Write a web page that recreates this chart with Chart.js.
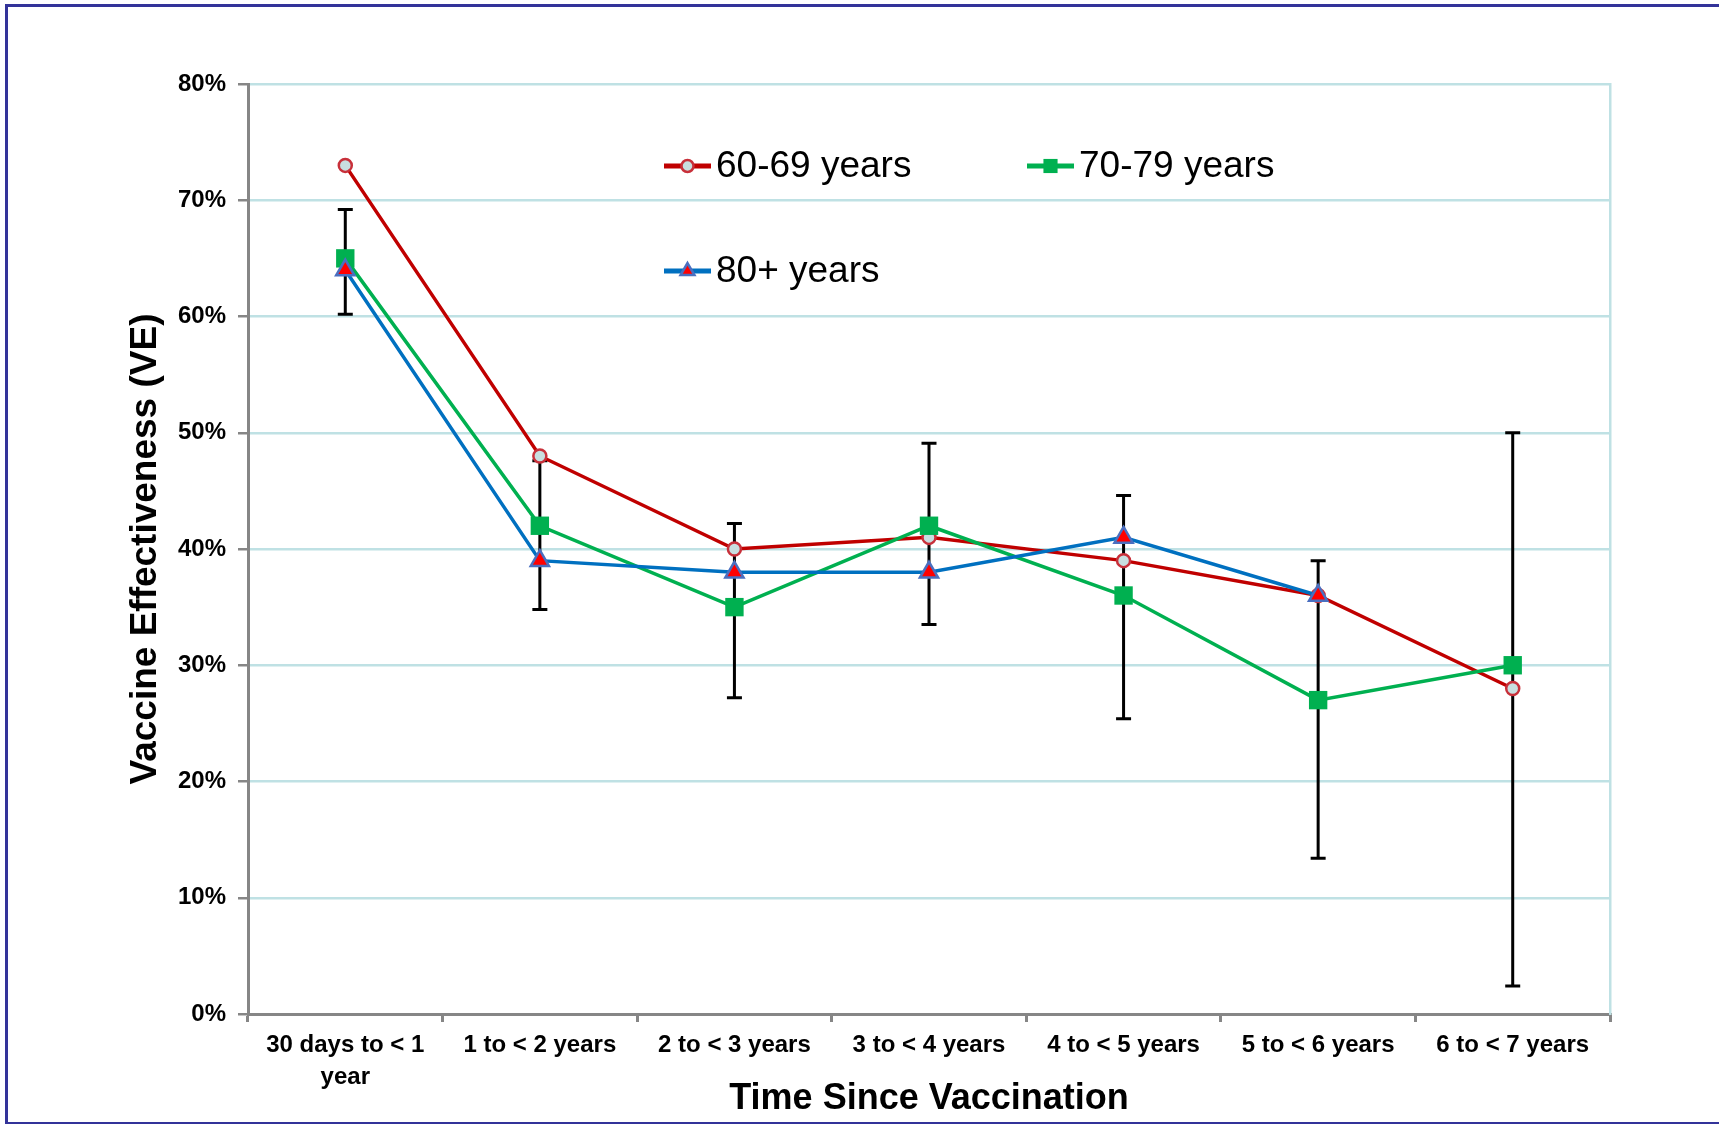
<!DOCTYPE html>
<html>
<head>
<meta charset="utf-8">
<title>Vaccine Effectiveness by Time Since Vaccination</title>
<script src="https://cdn.jsdelivr.net/npm/chart.js@4.4.1/dist/chart.umd.min.js"></script>
<style>
  html, body { margin: 0; padding: 0; background: #fff; overflow: hidden; }
  #wrap { position: relative; width: 1719px; height: 1124px; }
  #frame {
    position: absolute; left: 5px; top: 4px; width: 1800px; height: 1120px;
    box-sizing: border-box; pointer-events: none;
    border-left: 3px solid #333399; border-top: 3px solid #333399; border-bottom: 2px solid #333399;
  }
</style>
</head>
<body>
<div id="wrap">
  <canvas id="myChart"></canvas>
  <div id="frame"></div>
</div>
<script>
// Categories on the x axis
const timeSinceVaccination = [
  ['30 days to < 1', 'year'],
  '1 to < 2 years',
  '2 to < 3 years',
  '3 to < 4 years',
  '4 to < 5 years',
  '5 to < 6 years',
  '6 to < 7 years'
];

// Vaccine effectiveness (%) per age group
const ve60to69 = [73, 48, 40, 41, 39, 36, 28];
const ve70to79 = [65, 42, 35, 42, 36, 27, 30];
const ve80plus = [64, 39, 38, 38, 41, 36, null];

// Confidence interval for the 70-79 group (the only one with error bars)
const ci70to79Low  = [60.2, 34.8, 27.2, 33.5, 25.4, 13.4, 2.4];
const ci70to79High = [69.2, 47.6, 42.2, 49.1, 44.6, 39.0, 50.0];

// Y axis range and tick step (percent)
const yMin = 0;
const yMax = 80;
const yStep = 10;

const seriesLabels = ['60-69 years', '70-79 years', '80+ years'];

const AXIS_GRAY = '#868686';
const GRID_TEAL = '#bfe1e4';
const FONT = '"Liberation Sans", Arial, sans-serif';

Chart.defaults.font.family = FONT;
Chart.defaults.color = '#000';

// Draw the error bars under the lines and markers
const errorBarPlugin = {
  id: 'errorBars',
  beforeDatasetsDraw(chart) {
    const { ctx, scales: { x, y } } = chart;
    ctx.save();
    ctx.strokeStyle = '#000';
    ctx.lineWidth = 3;
    ci70to79Low.forEach((lo, i) => {
      const px = x.getPixelForValue(i);
      const top = y.getPixelForValue(ci70to79High[i]);
      const bottom = y.getPixelForValue(lo);
      ctx.beginPath();
      ctx.moveTo(px, top);
      ctx.lineTo(px, bottom);
      ctx.moveTo(px - 7.5, top);
      ctx.lineTo(px + 7.5, top);
      ctx.moveTo(px - 7.5, bottom);
      ctx.lineTo(px + 7.5, bottom);
      ctx.stroke();
    });
    ctx.restore();
  }
};

// Legend inside the plot, two items on the first row and one on the second
const legendSpots = [
  { index: 0, x: 664, y: 166, radius: 6 },
  { index: 1, x: 1027, y: 166, radius: 10 },
  { index: 2, x: 664, y: 271, radius: 8 }
];

const insideLegendPlugin = {
  id: 'insideLegend',
  afterDraw(chart) {
    const ctx = chart.ctx;
    ctx.save();
    legendSpots.forEach(spot => {
      const ds = chart.data.datasets[spot.index];
      const lineLen = 47;
      ctx.strokeStyle = ds.borderColor;
      ctx.lineWidth = 5;
      ctx.beginPath();
      ctx.moveTo(spot.x, spot.y);
      ctx.lineTo(spot.x + lineLen, spot.y);
      ctx.stroke();

      ctx.fillStyle = ds.pointBackgroundColor;
      ctx.strokeStyle = ds.pointBorderColor;
      ctx.lineWidth = ds.pointBorderWidth;
      Chart.helpers.drawPoint(ctx, {
        pointStyle: ds.pointStyle,
        radius: spot.radius,
        borderWidth: ds.pointBorderWidth,
        rotation: 0
      }, spot.x + lineLen / 2, spot.y);

      ctx.fillStyle = '#000';
      ctx.font = '37px ' + FONT;
      ctx.textBaseline = 'middle';
      ctx.textAlign = 'left';
      ctx.fillText(ds.label, spot.x + lineLen + 5, spot.y + 1);
    });
    ctx.restore();
  }
};

const ctx = document.getElementById('myChart').getContext('2d');

const myChart = new Chart(ctx, {
  type: 'line',
  data: {
    labels: timeSinceVaccination,
    datasets: [
      {
        label: seriesLabels[0],
        data: ve60to69,
        borderColor: '#c00000',
        borderWidth: 3.5,
        pointStyle: 'circle',
        pointRadius: 6.5,
        pointBackgroundColor: '#c8dfe0',
        pointBorderColor: '#c8303a',
        pointBorderWidth: 2.5,
        order: 3
      },
      {
        label: seriesLabels[1],
        data: ve70to79,
        borderColor: '#00b050',
        borderWidth: 3.5,
        pointStyle: 'rect',
        pointRadius: 13,
        pointBackgroundColor: '#00b050',
        pointBorderColor: '#00b050',
        pointBorderWidth: 0,
        order: 2
      },
      {
        label: seriesLabels[2],
        data: ve80plus,
        borderColor: '#0070c0',
        borderWidth: 3.5,
        pointStyle: 'triangle',
        pointRadius: 10.5,
        pointBackgroundColor: '#ff0000',
        pointBorderColor: '#4a6fc0',
        pointBorderWidth: 2.5,
        order: 1
      }
    ]
  },
  options: {
    responsive: true,
    maintainAspectRatio: false,
    animation: false,
    layout: { padding: { top: 84, left: 0, right: 0, bottom: 0 } },
    plugins: {
      legend: { display: false },
      tooltip: { enabled: false }
    },
    scales: {
      x: {
        type: 'category',
        offset: true,
        grid: {
          offset: true,
          drawOnChartArea: false,
          drawTicks: true,
          tickLength: 8,
          tickColor: AXIS_GRAY,
          lineWidth: 3
        },
        border: { color: AXIS_GRAY, width: 3 },
        ticks: {
          font: { size: 24, weight: 'bold', lineHeight: 1.35 },
          color: '#000',
          padding: 7,
          maxRotation: 0,
          autoSkip: false
        },
        title: {
          display: true,
          text: 'Time Since Vaccination',
          font: { size: 36, weight: 'bold' },
          color: '#000',
          padding: { top: 0, bottom: 3 }
        },
        afterFit: scale => { scale.height = 110; }
      },
      y: {
        min: yMin,
        max: yMax,
        ticks: {
          stepSize: yStep,
          callback: v => v + '%',
          font: { size: 24, weight: 'bold' },
          color: '#000',
          padding: 12
        },
        grid: {
          color: GRID_TEAL,
          lineWidth: 2.5,
          tickColor: AXIS_GRAY,
          tickLength: 10
        },
        border: { color: AXIS_GRAY, width: 3 },
        title: {
          display: true,
          text: 'Vaccine Effectiveness (VE)',
          font: { size: 37, weight: 'bold' },
          color: '#000',
          padding: { top: 124, bottom: 0 }
        },
        afterFit: scale => { scale.width = 248; }
      },
      yRight: {
        position: 'right',
        min: yMin,
        max: yMax,
        ticks: { display: false },
        grid: { display: false, drawTicks: false },
        border: { display: true, color: GRID_TEAL, width: 2.5 },
        afterFit: scale => { scale.width = 109; }
      }
    }
  },
  plugins: [errorBarPlugin, insideLegendPlugin]
});
</script>
</body>
</html>
